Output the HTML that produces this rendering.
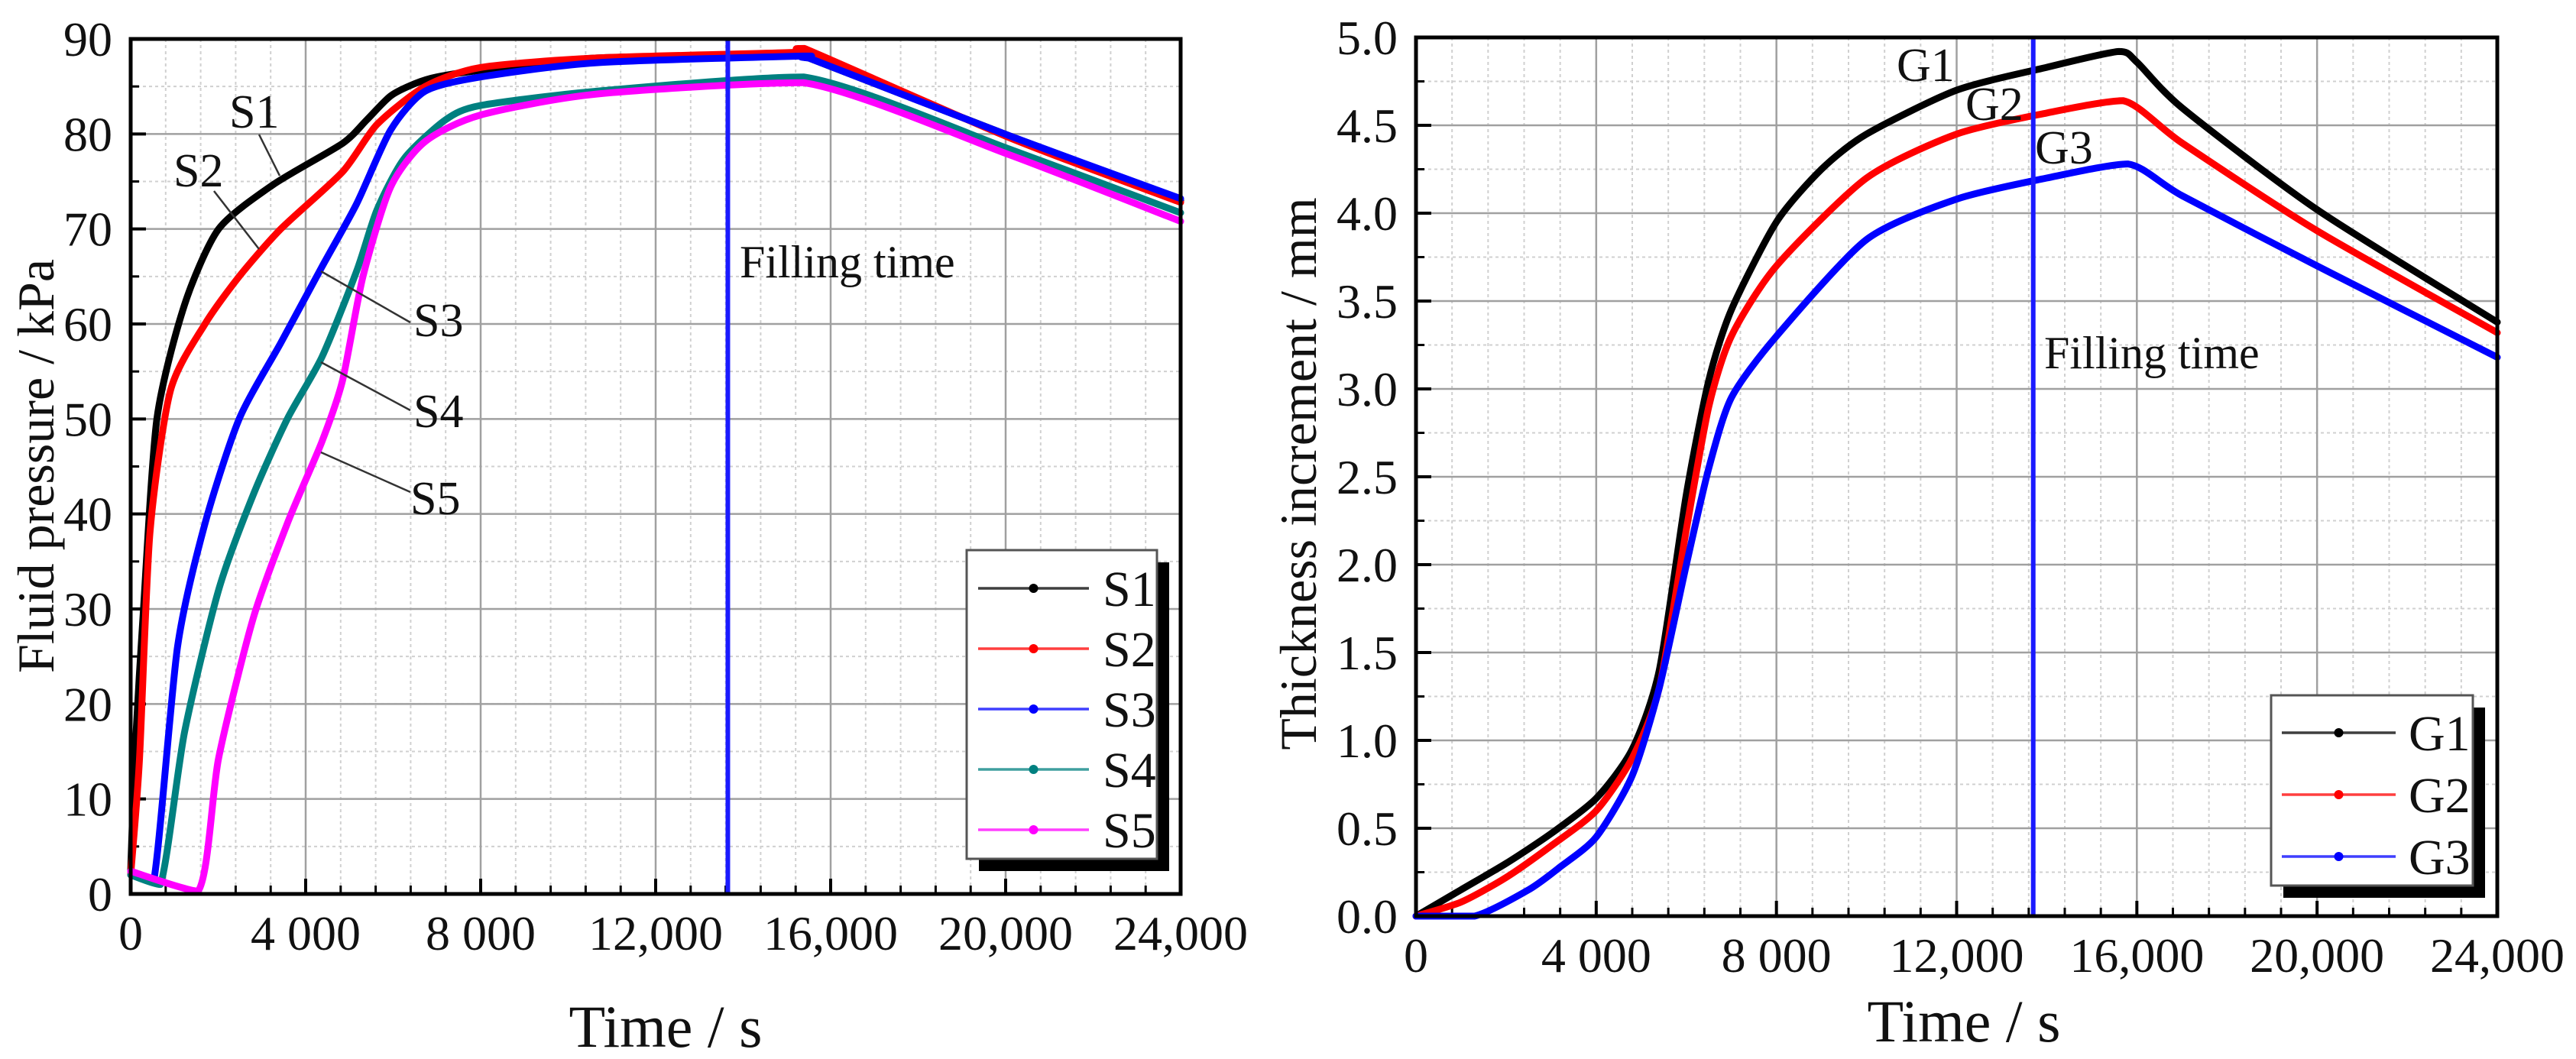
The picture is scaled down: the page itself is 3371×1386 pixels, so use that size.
<!DOCTYPE html>
<html><head><meta charset="utf-8">
<style>
html,body{margin:0;padding:0;background:#fff;}
svg{display:block;font-family:"Liberation Serif",serif;}
</style></head>
<body>
<svg id="fig" width="3371" height="1386" viewBox="0 0 3371 1386" xmlns="http://www.w3.org/2000/svg">
<rect width="3371" height="1386" fill="#fff"/>
<g id="left"></g>
<g id="right"></g>
</svg>
<script>
// ---- Left chart data ----
const leftXTicks = [0, 4000, 8000, 12000, 16000, 20000, 24000];
const leftXTickLabels = ["0", "4 000", "8 000", "12,000", "16,000", "20,000", "24,000"];
const leftYTicks = [0, 10, 20, 30, 40, 50, 60, 70, 80, 90];
const leftYTickLabels = ["0", "10", "20", "30", "40", "50", "60", "70", "80", "90"];
const s1T = [0, 100, 280, 600, 1230, 2010, 3270, 4840, 5400, 5940, 6500, 7000, 8000, 10650, 15380, 15500, 20090, 24000];
const s1V = [2.4, 15, 29, 50, 62, 70, 74.7, 79, 81.5, 84, 85.3, 86, 86.7, 88, 88.3, 88.0, 79.8, 73.0];
const s2T = [0, 200, 440, 910, 1700, 2480, 3430, 4840, 5630, 6730, 8000, 10650, 15250, 15400, 20090, 24000];
const s2V = [2, 14, 38, 53, 60, 65, 70, 76, 81, 85, 87, 88, 88.6, 89, 79.6, 72.8];
const s3T = [0, 520, 1070, 1700, 2480, 3430, 4370, 5160, 5940, 6730, 8000, 10650, 15380, 15500, 20090, 24000];
const s3V = [2.4, 1.2, 26, 39, 50, 58, 66, 72.6, 80.4, 84.5, 86, 87.5, 88.2, 88.0, 79.8, 73.2];
const s4T = [0, 680, 1230, 2010, 2800, 3580, 4370, 5160, 5630, 6250, 7200, 8000, 10650, 15380, 20090, 24000];
const s4V = [2, 1, 17, 32, 42, 50, 56.5, 65.5, 72, 77.4, 81.5, 83, 84.5, 86, 78.4, 71.7];
const s5T = [0, 1540, 2010, 2800, 3580, 4370, 4840, 5310, 5940, 6730, 8000, 10650, 15380, 20090, 24000];
const s5V = [2.4, 0.3, 14.3, 29, 39, 47.6, 54, 65, 74.4, 79.2, 82, 84.2, 85.4, 77.8, 70.8];
const leftFilling = 13650;

// ---- Right chart data ----
const rightXTicks = [0, 4000, 8000, 12000, 16000, 20000, 24000];
const rightXTickLabels = ["0", "4 000", "8 000", "12,000", "16,000", "20,000", "24,000"];
const rightYTicks = [0, 0.5, 1, 1.5, 2, 2.5, 3, 3.5, 4, 4.5, 5];
const rightYTickLabels = ["0.0", "0.5", "1.0", "1.5", "2.0", "2.5", "3.0", "3.5", "4.0", "4.5", "5.0"];
const g1T = [0, 1000, 2000, 3000, 4000, 4800, 5400, 6000, 6500, 7000, 8000, 9000, 10000, 12000, 14000, 15600, 16000, 17000, 20000, 24000];
const g1V = [0, 0.15, 0.3, 0.47, 0.67, 0.95, 1.4, 2.4, 3.05, 3.45, 3.95, 4.25, 4.45, 4.7, 4.83, 4.92, 4.86, 4.6, 4.02, 3.38];
const g2T = [0, 1000, 2000, 3000, 4000, 4800, 5400, 6000, 6500, 7000, 8000, 10000, 12000, 14000, 15700, 17000, 20000, 24000];
const g2V = [0, 0.08, 0.22, 0.4, 0.6, 0.9, 1.3, 2.2, 2.9, 3.3, 3.7, 4.2, 4.45, 4.57, 4.64, 4.4, 3.9, 3.32];
const g3T = [0, 1300, 2500, 3200, 4000, 4800, 5400, 6000, 6500, 7000, 8000, 10000, 12000, 14000, 15800, 17000, 20000, 24000];
const g3V = [0, 0, 0.15, 0.28, 0.45, 0.8, 1.3, 2.0, 2.55, 2.95, 3.3, 3.85, 4.08, 4.2, 4.28, 4.1, 3.7, 3.18];
const rightFilling = 13700;

const NS = "http://www.w3.org/2000/svg";
function mk(parent, tag, attrs, text) {
  const e = document.createElementNS(NS, tag);
  for (const k in attrs) e.setAttribute(k, attrs[k]);
  if (text !== undefined) e.textContent = text;
  parent.appendChild(e);
  return e;
}
function smoothPath(P) {
  let d = "M" + P[0][0].toFixed(1) + "," + P[0][1].toFixed(1);
  const cl = (v, a, b) => Math.max(Math.min(a, b), Math.min(Math.max(a, b), v));
  for (let i = 0; i < P.length - 1; i++) {
    const p0 = P[Math.max(0, i - 1)], p1 = P[i], p2 = P[i + 1], p3 = P[Math.min(P.length - 1, i + 2)];
    const k = 0.12;
    const c1 = [p1[0] + (p2[0] - p0[0]) * k, cl(p1[1] + (p2[1] - p0[1]) * k, p1[1], p2[1])];
    const c2 = [p2[0] - (p3[0] - p1[0]) * k, cl(p2[1] - (p3[1] - p1[1]) * k, p1[1], p2[1])];
    d += " C" + c1[0].toFixed(1) + "," + c1[1].toFixed(1) + " " + c2[0].toFixed(1) + "," + c2[1].toFixed(1) + " " + p2[0].toFixed(1) + "," + p2[1].toFixed(1);
  }
  return d;
}

function drawChart(g, cfg) {
  const sx = v => cfg.x0 + (v - cfg.xmin) / (cfg.xmax - cfg.xmin) * (cfg.x1 - cfg.x0);
  const sy = v => cfg.yb - (v - cfg.ymin) / (cfg.ymax - cfg.ymin) * (cfg.yb - cfg.yt);
  for (let v = cfg.xmin; v <= cfg.xmax + 1e-9; v += cfg.xminor) {
    const ln = mk(g, "line", {x1: sx(v), x2: sx(v), y1: cfg.yt, y2: cfg.yb, stroke: "#d0d0d0", "stroke-width": 2, "stroke-dasharray": "4 4"});
    
    
  }
  for (let v = cfg.ymin; v <= cfg.ymax + 1e-9; v += cfg.yminor) {
    const ln = mk(g, "line", {x1: cfg.x0, x2: cfg.x1, y1: sy(v), y2: sy(v), stroke: "#d0d0d0", "stroke-width": 2, "stroke-dasharray": "4 4"});
    
    
  }
  cfg.xTicks.forEach((v, i) => {
    const ln = mk(g, "line", {x1: sx(v), x2: sx(v), y1: cfg.yt, y2: cfg.yb, stroke: "#a0a0a0", "stroke-width": 2.5});
    
    
    const tk = mk(g, "line", {x1: sx(v), x2: sx(v), y1: cfg.yb, y2: cfg.yb - 20, stroke: "#000", "stroke-width": 4});
    
    
    const t = mk(g, "text", {x: sx(v), y: cfg.yb + 73, "font-size": 64, "text-anchor": "middle", fill: "#111"}, cfg.xLabels[i]);
    
    
  });
  for (let v = cfg.xmin; v <= cfg.xmax + 1e-9; v += cfg.xminor) {
    const tk = mk(g, "line", {x1: sx(v), x2: sx(v), y1: cfg.yb, y2: cfg.yb - 11, stroke: "#000", "stroke-width": 3});
    
    
  }
  cfg.yTicks.forEach((v, i) => {
    const ln = mk(g, "line", {x1: cfg.x0, x2: cfg.x1, y1: sy(v), y2: sy(v), stroke: "#a0a0a0", "stroke-width": 2.5});
    
    
    const tk = mk(g, "line", {x1: cfg.x0, x2: cfg.x0 + 20, y1: sy(v), y2: sy(v), stroke: "#000", "stroke-width": 4});
    
    
    const t = mk(g, "text", {x: cfg.x0 - 24, y: sy(v) + 22, "font-size": 64, "text-anchor": "end", fill: "#111"}, cfg.yLabels[i]);
    
    
  });
  for (let v = cfg.ymin; v <= cfg.ymax + 1e-9; v += cfg.yminor) {
    const tk = mk(g, "line", {x1: cfg.x0, x2: cfg.x0 + 11, y1: sy(v), y2: sy(v), stroke: "#000", "stroke-width": 3});
    
    
  }
  cfg.series.forEach(s => {
    const P = s.t.map((t, i) => [sx(t), sy(s.v[i])]);
    const pl = mk(g, "path", {d: smoothPath(P), fill: "none", stroke: s.color, "stroke-width": 9, "stroke-linejoin": "round", "stroke-linecap": "round"});
    
    
  });
  const fl = mk(g, "line", {x1: sx(cfg.filling), x2: sx(cfg.filling), y1: cfg.yt, y2: cfg.yb, stroke: "#1a1aff", "stroke-width": 6});
  
  
  const ft = mk(g, "text", {x: cfg.fillTextX, y: cfg.fillTextY, "font-size": 60, fill: "#111"}, "Filling time");
  
  
  const fr = mk(g, "rect", {x: cfg.x0, y: cfg.yt, width: cfg.x1 - cfg.x0, height: cfg.yb - cfg.yt, fill: "none", stroke: "#000", "stroke-width": 5});
  
  
  const xt = mk(g, "text", {x: cfg.xTitleX, y: cfg.xTitleY, "font-size": 78, "text-anchor": "middle", fill: "#111"}, "Time / s");
  
  
  const yt = mk(g, "text", {x: 0, y: 0, "font-size": 68, "text-anchor": "middle", fill: "#111", transform: "translate(" + cfg.yTitleX + "," + cfg.yTitleY + ") rotate(-90)"}, cfg.yTitle);
  
  
  const L = cfg.legend;
  const sh = mk(g, "path", {d: `M${L.x + 16},${L.y1} H${L.x1 + 16} V${L.y1 + 16} H${L.x + 16} Z M${L.x1},${L.y + 16} H${L.x1 + 16} V${L.y1 + 16} H${L.x1} Z`, fill: "#000"});
  
  
  const lb = mk(g, "rect", {x: L.x, y: L.y, width: L.x1 - L.x, height: L.y1 - L.y, fill: "#fff", stroke: "#555", "stroke-width": 3});
  
  
  cfg.series.forEach((s, i) => {
    const yy = L.firstY + i * L.step;
    const ll = mk(g, "line", {x1: L.lx0, x2: L.lx1, y1: yy, y2: yy, stroke: s.color, "stroke-width": 3.5, opacity: 0.75});
    
    
    const dot = mk(g, "circle", {cx: (L.lx0 + L.lx1) / 2, cy: yy, r: 6, fill: s.color});
    
    
    const tx = mk(g, "text", {x: L.tx, y: yy + 23, "font-size": 66, fill: "#111"}, s.name);
    
    
  });
  cfg.labels.forEach(lbl => {
    if (lbl.lx) {
      const lr = mk(g, "line", {x1: lbl.lx[0], y1: lbl.lx[1], x2: lbl.lx[2], y2: lbl.lx[3], stroke: "#333", "stroke-width": 2.5});
      
      
    }
    const t = mk(g, "text", {x: lbl.x, y: lbl.y, "font-size": 62, fill: "#111"}, lbl.text);
    
    
  });
}

drawChart(document.getElementById("left"), {
  x0: 171, x1: 1545, yt: 51, yb: 1170, xmin: 0, xmax: 24000, ymin: 0, ymax: 90,
  xminor: 800, yminor: 5, xTicks: leftXTicks, xLabels: leftXTickLabels, yTicks: leftYTicks, yLabels: leftYTickLabels,
  series: [
    {name: "S1", t: s1T, v: s1V, color: "#000"},
    {name: "S2", t: s2T, v: s2V, color: "#ff0000"},
    {name: "S3", t: s3T, v: s3V, color: "#0000ff"},
    {name: "S4", t: s4T, v: s4V, color: "#008080"},
    {name: "S5", t: s5T, v: s5V, color: "#ff00ff"}
  ],
  filling: leftFilling, fillTextX: 968, fillTextY: 363,
  xTitleX: 871, xTitleY: 1370, yTitleX: 70, yTitleY: 610, yTitle: "Fluid pressure / kPa",
  legend: {x: 1265, y: 720, x1: 1514, y1: 1124, firstY: 770, step: 79, lx0: 1280, lx1: 1425, tx: 1443},
  labels: [
    {text: "S1", x: 300, y: 167, lx: [339, 176, 366, 230]},
    {text: "S2", x: 227, y: 244, lx: [280, 250, 339, 326]},
    {text: "S3", x: 541, y: 440, lx: [537, 422, 420, 355]},
    {text: "S4", x: 541, y: 559, lx: [537, 537, 420, 474]},
    {text: "S5", x: 537, y: 673, lx: [537, 644, 420, 592]}
  ]
});

drawChart(document.getElementById("right"), {
  x0: 1853, x1: 3268, yt: 49, yb: 1199, xmin: 0, xmax: 24000, ymin: 0, ymax: 5,
  xminor: 800, yminor: 0.25, xTicks: rightXTicks, xLabels: rightXTickLabels, yTicks: rightYTicks, yLabels: rightYTickLabels,
  series: [
    {name: "G1", t: g1T, v: g1V, color: "#000"},
    {name: "G2", t: g2T, v: g2V, color: "#ff0000"},
    {name: "G3", t: g3T, v: g3V, color: "#0000ff"}
  ],
  filling: rightFilling, fillTextX: 2675, fillTextY: 482,
  xTitleX: 2570, xTitleY: 1363, yTitleX: 1722, yTitleY: 620, yTitle: "Thickness increment / mm",
  legend: {x: 2972, y: 910, x1: 3236, y1: 1159, firstY: 959, step: 81, lx0: 2986, lx1: 3135, tx: 3152},
  labels: [
    {text: "G1", x: 2482, y: 106},
    {text: "G2", x: 2572, y: 157},
    {text: "G3", x: 2663, y: 214}
  ]
});
</script>
</body></html>
